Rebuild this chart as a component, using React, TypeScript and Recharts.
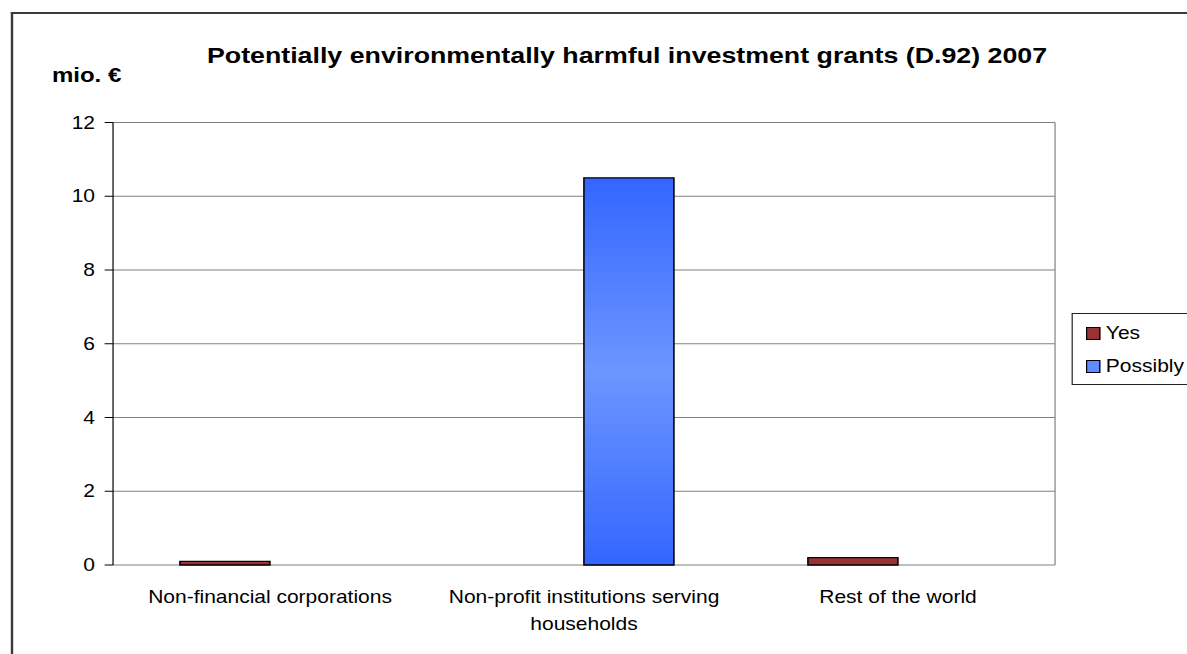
import React from 'react';
import { BarChart, Bar, XAxis, YAxis, CartesianGrid } from 'recharts';

const categories = [
  'Non-financial corporations',
  'Non-profit institutions serving households',
  'Rest of the world',
];
const yesValues = [0.1, 0, 0.2];
const possiblyValues = [0, 10.5, 0];
const yTicks = [0, 2, 4, 6, 8, 10, 12];
const boundaryTicks = [0, 1, 2, 3];

const data = categories.map((name, i) => ({
  name,
  yes: yesValues[i],
  possibly: possiblyValues[i],
}));

// the reference image is stretched horizontally, so draw narrower and scale
const STRETCH = 1.2;
const W = 989;
const H = 654;
const FONT = 'Arial, "Liberation Sans", sans-serif';

// simple word wrap for long category names
function wrapLabel(text: string, max = 32): string[] {
  const words = text.split(' ');
  const lines: string[] = [];
  let cur = '';
  words.forEach((w) => {
    const next = cur ? cur + ' ' + w : w;
    if (next.length > max && cur) {
      lines.push(cur);
      cur = w;
    } else {
      cur = next;
    }
  });
  if (cur) lines.push(cur);
  return lines;
}

const CategoryTick = (props: any) => {
  const { x, y, payload } = props;
  const lines = wrapLabel(payload.value);
  return (
    <text x={x} y={y + 38} textAnchor="middle" fill="#000" fontSize={17.5} fontFamily={FONT}>
      {lines.map((l, i) => (
        <tspan key={i} x={x} dy={i === 0 ? 0 : 27.5}>
          {l}
        </tspan>
      ))}
    </text>
  );
};

export default function App() {
  return (
    <div
      style={{
        position: 'fixed',
        left: 0,
        top: 0,
        width: W,
        height: H,
        transform: `scaleX(${STRETCH})`,
        transformOrigin: '0 0',
        background: '#fff',
        fontFamily: FONT,
      }}
    >
      {/* chart frame */}
      <div
        style={{
          position: 'absolute',
          left: 8.5,
          top: 11.5,
          width: 1100,
          height: 800,
          borderTop: '2px solid #3a3a3a',
          borderLeft: '2px solid #3a3a3a',
        }}
      />

      <div
        style={{
          position: 'absolute',
          left: 522.5,
          top: 45,
          transform: 'translateX(-50%)',
          whiteSpace: 'nowrap',
          fontSize: 22.3,
          lineHeight: '22px',
          fontWeight: 'bold',
          color: '#000',
        }}
      >
        Potentially environmentally harmful investment grants (D.92) 2007
      </div>

      <div
        style={{
          position: 'absolute',
          left: 43.3,
          top: 66,
          whiteSpace: 'nowrap',
          fontSize: 20,
          lineHeight: '18px',
          fontWeight: 'bold',
          color: '#000',
        }}
      >
        mio. €
      </div>

      <div style={{ position: 'absolute', left: 0, top: 0 }}>
        <BarChart
          width={W}
          height={H}
          data={data}
          margin={{ top: 122.5, right: 109.8, bottom: 29, left: 0 }}
          barCategoryGap="21.3%"
          barGap={0}
        >
          <defs>
            <linearGradient id="possiblyGrad" x1="0" y1="0" x2="0" y2="1">
              <stop offset="0%" stopColor="#3366ff" />
              <stop offset="50%" stopColor="#6c96ff" />
              <stop offset="100%" stopColor="#3366ff" />
            </linearGradient>
          </defs>
          <CartesianGrid
            xAxisId="cat"
            stroke="#808080"
            vertical={true}
            verticalCoordinatesGenerator={({ offset }: any) => [offset.left + offset.width]}
          />
          <XAxis
            xAxisId="bounds"
            type="number"
            domain={[0, 3]}
            ticks={boundaryTicks}
            tick={false}
            tickSize={7}
            height={0}
            axisLine={{ stroke: '#000' }}
            tickLine={{ stroke: '#000' }}
          />
          <XAxis
            xAxisId="cat"
            dataKey="name"
            height={60}
            axisLine={false}
            tickLine={false}
            tickSize={0}
            tickMargin={0}
            interval={0}
            tick={<CategoryTick />}
          />
          <YAxis
            width={94.2}
            domain={[0, 12]}
            ticks={yTicks}
            interval={0}
            tickSize={7}
            tickMargin={8}
            axisLine={{ stroke: '#000' }}
            tickLine={{ stroke: '#000' }}
            tick={{ fill: '#000', fontSize: 17.5, fontFamily: FONT }}
          />
          <Bar
            xAxisId="cat"
            dataKey="yes"
            fill="#993333"
            stroke="#000"
            strokeWidth={1.3}
            isAnimationActive={false}
          />
          <Bar
            xAxisId="cat"
            dataKey="possibly"
            fill="url(#possiblyGrad)"
            stroke="#000"
            strokeWidth={1.3}
            isAnimationActive={false}
          />
        </BarChart>
      </div>

      {/* legend */}
      <div
        style={{
          position: 'absolute',
          left: 892.5,
          top: 313,
          width: 120,
          height: 72,
          border: '1px solid #222',
          boxSizing: 'border-box',
        }}
      >
        {[
          { label: 'Yes', color: '#993333', top: 12 },
          { label: 'Possibly', color: '#5f8cff', top: 45 },
        ].map((it) => (
          <div key={it.label} style={{ position: 'absolute', left: 11, top: it.top, height: 14 }}>
            <div
              style={{
                position: 'absolute',
                left: 0,
                top: 0.5,
                width: 10.5,
                height: 11,
                background: it.color,
                border: '1px solid #000',
              }}
            />
            <div
              style={{
                position: 'absolute',
                left: 17,
                top: -3,
                fontSize: 17.5,
                lineHeight: '20px',
                whiteSpace: 'nowrap',
                color: '#000',
              }}
            >
              {it.label}
            </div>
          </div>
        ))}
      </div>
    </div>
  );
}
